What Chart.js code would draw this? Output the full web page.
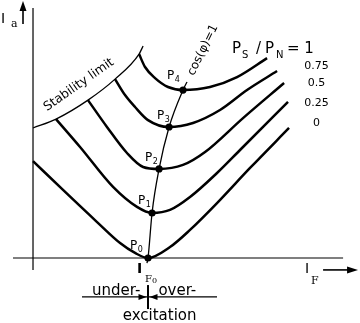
<!DOCTYPE html>
<html>
<head>
<meta charset="utf-8">
<script src="https://cdn.jsdelivr.net/npm/chart.js@4/dist/chart.umd.min.js"></script>
<style>
  html, body { margin: 0; padding: 0; background: #fff; }
  canvas { display: block; }
</style>
</head>
<body>
<canvas id="vCurves" width="360" height="323"></canvas>
<script>
// V-curves of a synchronous machine
// x = I_F / I_F0, y = I_a / I_N

// P_S / P_N for every curve
const loadLabels = ["0", "0.25", "0.5", "0.75", "1"];

const ifLoad0 = [0, 0.261, 0.557, 0.757, 0.887, 1.0, 1.191, 1.365, 1.6, 1.887, 2.226];
const iaLoad0 = [0.577, 0.405, 0.214, 0.089, 0.030, 0, 0.065, 0.167, 0.327, 0.536, 0.774];

const ifLoad25 = [0.2, 0.409, 0.696, 0.904, 1.035, 1.191, 1.365, 1.6, 1.8, 2.217];
const iaLoad25 = [0.827, 0.661, 0.423, 0.304, 0.268, 0.286, 0.363, 0.506, 0.643, 0.929];

const ifLoad50 = [0.478, 0.643, 0.817, 0.957, 1.096, 1.304, 1.496, 1.826, 2.183];
const iaLoad50 = [0.940, 0.780, 0.625, 0.542, 0.530, 0.554, 0.631, 0.833, 1.042];

const ifLoad75 = [0.713, 0.8, 0.887, 1.0, 1.183, 1.391, 1.626, 1.861, 2.122];
const iaLoad75 = [1.065, 0.970, 0.899, 0.821, 0.780, 0.804, 0.881, 1.0, 1.113];

const ifLoad100 = [0.922, 0.974, 1.061, 1.174, 1.304, 1.539, 1.774, 2.035];
const iaLoad100 = [1.214, 1.137, 1.071, 1.018, 1.0, 1.018, 1.077, 1.190];

// stability limit
const ifStability = [0, 0.2, 0.478, 0.713, 0.922, 0.957];
const iaStability = [0.774, 0.827, 0.940, 1.065, 1.214, 1.262];

// cos(phi) = 1 line, P0..P4 are the minima
const ifUnity = [0.991, 1.0, 1.035, 1.096, 1.183, 1.304, 1.339];
const iaUnity = [-0.03, 0, 0.268, 0.530, 0.780, 1.0, 1.048];
const unityLabels = ["", "0", "1", "2", "3", "4", ""];

const SANS = '"DejaVu Sans", sans-serif';
const SERIF = '"DejaVu Serif", serif';

function toPoints(xs, ys) {
  return xs.map((v, i) => ({ x: v, y: ys[i] }));
}

const curves = [
  [ifLoad0, iaLoad0],
  [ifLoad25, iaLoad25],
  [ifLoad50, iaLoad50],
  [ifLoad75, iaLoad75],
  [ifLoad100, iaLoad100],
];

const datasets = curves.map(([xs, ys], i) => ({
  label: loadLabels[i],
  data: toPoints(xs, ys),
  borderColor: "#000",
  borderWidth: 2.5,
  pointRadius: 0,
  showLine: true,
  cubicInterpolationMode: "monotone",
}));

datasets.push({
  label: "stability",
  data: toPoints(ifStability, iaStability),
  borderColor: "#000",
  borderWidth: 1.3,
  pointRadius: 0,
  showLine: true,
  cubicInterpolationMode: "monotone",
});

datasets.push({
  label: "cos=1",
  data: toPoints(ifUnity, iaUnity),
  borderColor: "#000",
  borderWidth: 1.3,
  backgroundColor: "#000",
  pointRadius: (c) => (unityLabels[c.dataIndex] ? 3.6 : 0),
  pointBorderWidth: 0,
  showLine: true,
  cubicInterpolationMode: "monotone",
});

function arrowHead(ctx, x, y, angle, len, half) {
  ctx.save();
  ctx.translate(x, y);
  ctx.rotate(angle);
  ctx.beginPath();
  ctx.moveTo(0, 0);
  ctx.lineTo(-len, -half);
  ctx.lineTo(-len, half);
  ctx.closePath();
  ctx.fill();
  ctx.restore();
}

function text(ctx, s, x, y, font, align) {
  ctx.font = font;
  ctx.textAlign = align || "left";
  ctx.fillText(s, x, y);
  return x + ctx.measureText(s).width;
}

// axes, arrows and all the labels
const notes = {
  id: "notes",
  beforeDatasetsDraw(chart) {
    const { ctx, scales } = chart;
    const X = (v) => scales.x.getPixelForValue(v);
    const Y = (v) => scales.y.getPixelForValue(v);
    ctx.save();
    ctx.strokeStyle = "#000";
    ctx.lineWidth = 1.2;
    ctx.beginPath();
    ctx.moveTo(X(0), Y(1.488));
    ctx.lineTo(X(0), Y(-0.071));
    ctx.moveTo(X(-0.174), Y(0));
    ctx.lineTo(X(2.696), Y(0));
    ctx.stroke();
    ctx.restore();
  },
  afterDatasetsDraw(chart) {
    const { ctx, scales } = chart;
    const X = (v) => scales.x.getPixelForValue(v);
    const Y = (v) => scales.y.getPixelForValue(v);
    ctx.save();
    ctx.fillStyle = "#000";
    ctx.strokeStyle = "#000";
    ctx.textBaseline = "alphabetic";

    // I_a arrow
    ctx.lineWidth = 1.6;
    const ax = X(-0.087);
    ctx.beginPath();
    ctx.moveTo(ax, Y(1.393));
    ctx.lineTo(ax, Y(1.49));
    ctx.stroke();
    arrowHead(ctx, ax, Y(1.53), -Math.PI / 2, 10, 3.5);
    text(ctx, "I", X(-0.278), Y(1.399), "14px " + SANS);
    text(ctx, "a", X(-0.191), Y(1.375), "11px " + SERIF);

    // I_F arrow
    const fy = Y(-0.071);
    ctx.beginPath();
    ctx.moveTo(X(2.522), fy);
    ctx.lineTo(X(2.74), fy);
    ctx.stroke();
    arrowHead(ctx, X(2.826), fy, 0, 11, 3.5);
    text(ctx, "I", X(2.365), Y(-0.089), "14px " + SANS);
    text(ctx, "F", X(2.417), Y(-0.155), "11px " + SERIF);

    // I_F0
    text(ctx, "I", X(0.905), Y(-0.089), "bold 14px " + SANS);
    let nx = text(ctx, "F", X(0.974), Y(-0.143), "10px " + SERIF);
    text(ctx, "0", nx, Y(-0.149), "8px " + SERIF);

    // under- / over-excitation
    const ey = Y(-0.232);
    ctx.lineWidth = 1.2;
    ctx.beginPath();
    ctx.moveTo(X(0.426), ey);
    ctx.lineTo(X(1.6), ey);
    ctx.stroke();
    ctx.lineWidth = 2;
    ctx.beginPath();
    ctx.moveTo(X(1.0), Y(-0.161));
    ctx.lineTo(X(1.0), Y(-0.304));
    ctx.stroke();
    arrowHead(ctx, X(1.0) - 1.5, ey, 0, 8, 3);
    arrowHead(ctx, X(1.0) + 1.5, ey, Math.PI, 8, 3);
    text(ctx, "under-", X(0.513), Y(-0.220), "15px " + SANS);
    text(ctx, "over-", X(1.09), Y(-0.220), "15px " + SANS);
    text(ctx, "excitation", X(0.78), Y(-0.369), "15px " + SANS);

    // P0..P4
    const offs = [null, [-18, -9], [-14, -9], [-14, -8], [-12, -8], [-16, -11], null];
    unityLabels.forEach((s, i) => {
      if (!s) return;
      const px = X(ifUnity[i]) + offs[i][0];
      const py = Y(iaUnity[i]) + offs[i][1];
      const end = text(ctx, "P", px, py, "12px " + SANS);
      text(ctx, s, end + 0.5, py + 3, "8px " + SANS);
    });

    // P_S / P_N = 1
    const ly = Y(1.220);
    let lx = X(1.730);
    text(ctx, "P", lx, ly, "15px " + SANS);
    text(ctx, "S", lx + 10, ly + 5, "10px " + SANS);
    text(ctx, "/", lx + 24, ly, "15px " + SANS);
    text(ctx, "P", lx + 33, ly, "15px " + SANS);
    text(ctx, "N", lx + 44, ly + 5, "10px " + SANS);
    text(ctx, "= 1", lx + 55, ly, "15px " + SANS);

    // load values next to the curve ends
    const labelShift = [-2, 4, 3, -2];
    for (let i = 0; i < 4; i++) {
      const ys = curves[i][1];
      const endY = Y(ys[ys.length - 1]);
      text(ctx, loadLabels[i], X(2.465), endY + labelShift[i], "11px " + SANS, "center");
    }

    // rotated labels
    ctx.save();
    ctx.translate(X(0.415), Y(1.015));
    ctx.rotate(-35 * Math.PI / 180);
    text(ctx, "Stability limit", 0, 0, "12.5px " + SANS, "center");
    ctx.restore();

    ctx.save();
    ctx.translate(X(1.478), Y(1.238));
    ctx.rotate(-64 * Math.PI / 180);
    ctx.textBaseline = "middle";
    text(ctx, "cos(φ)=1", 0, 0, "12px " + SANS, "center");
    ctx.restore();

    ctx.restore();
  },
};

new Chart(document.getElementById("vCurves"), {
  type: "scatter",
  data: { datasets: datasets },
  options: {
    responsive: false,
    animation: false,
    events: [],
    layout: { padding: 0 },
    plugins: {
      legend: { display: false },
      tooltip: { enabled: false },
    },
    scales: {
      x: { type: "linear", min: -0.287, max: 2.843, display: false },
      y: { type: "linear", min: -0.387, max: 1.536, display: false },
    },
  },
  plugins: [notes],
});
</script>
</body>
</html>
